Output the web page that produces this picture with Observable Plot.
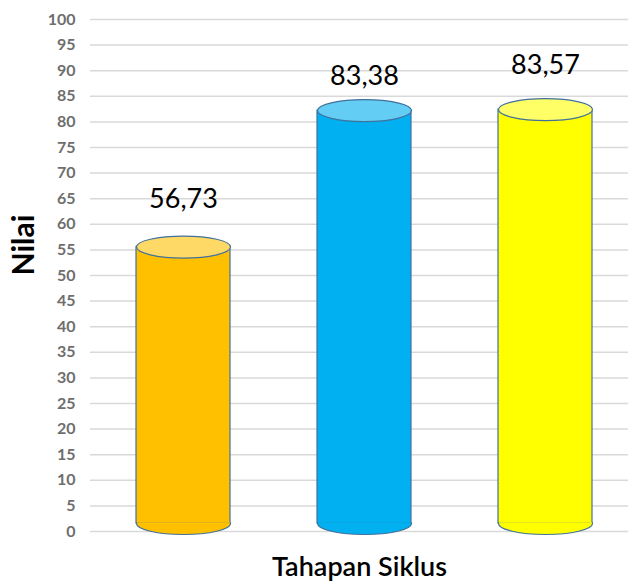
<!DOCTYPE html>
<html>
<head>
<meta charset="utf-8">
<script src="https://cdn.jsdelivr.net/npm/d3@7"></script>
<script src="https://cdn.jsdelivr.net/npm/@observablehq/plot@0.6"></script>
<style>
  html, body { margin: 0; padding: 0; background: #fff; }
</style>
</head>
<body>
<div id="chart"></div>
<script>
// ---- data ----
const categories = ["Siklus A", "Siklus B", "Siklus C"];
const values = [56.73, 83.38, 83.57];
const bodyColors = ["#FFC000", "#00B0F0", "#FFFF00"];
const topColors = ["#FFD966", "#63CDF3", "#FFFF66"];
const yTicks = d3.range(0, 101, 5);

const data = categories.map((c, i) => ({cat: c, value: values[i], body: bodyColors[i], top: topColors[i]}));

// ---- cylinder geometry (styling) ----
const RX = 47, RY = 11, TOP_DY = 6, BOT_DY = -8;
const K = 0.5523;
const ellipse = {
  draw(ctx) {
    ctx.moveTo(-RX, 0);
    ctx.bezierCurveTo(-RX, -RY * K, -RX * K, -RY, 0, -RY);
    ctx.bezierCurveTo(RX * K, -RY, RX, -RY * K, RX, 0);
    ctx.bezierCurveTo(RX, RY * K, RX * K, RY, 0, RY);
    ctx.bezierCurveTo(-RX * K, RY, -RX, RY * K, -RX, 0);
    ctx.closePath();
  }
};
// lower half of an ellipse, open path (fill covers the bar's bottom edge, stroke draws only the arc)
const lowerHalf = {
  draw(ctx) {
    ctx.moveTo(-RX, -1.2);
    ctx.lineTo(-RX, 0);
    ctx.bezierCurveTo(-RX, RY * K, -RX * K, RY, 0, RY);
    ctx.bezierCurveTo(RX * K, RY, RX, RY * K, RX, 0);
    ctx.lineTo(RX, -1.2);
  }
};
const edge = "#41719C";
const labelDy = [-42, -28, -38];
const fmt = v => v.toFixed(2).replace(".", ",");

const chart = Plot.plot({
  width: 628,
  height: 581,
  marginLeft: 90,
  marginRight: 0,
  marginTop: 19,
  marginBottom: 50,
  style: {fontFamily: "Lato, 'Open Sans', sans-serif", fontSize: "16px", color: "#6E6E6E", background: "#fff"},
  x: {domain: categories, range: [92, 637], paddingInner: 0.48, paddingOuter: 0.24, axis: null},
  y: {domain: [0, 100], ticks: yTicks, tickSize: 0, tickPadding: 15, label: null, tickFormat: d => d},
  marks: [
    Plot.ruleY(yTicks, {stroke: "#D9D9D9", strokeWidth: 1.5}),
    Plot.barY(data, {x: "cat", y1: () => 0, y2: "value", insetTop: TOP_DY, insetBottom: -BOT_DY, fill: "body", stroke: edge, strokeWidth: 1.2}),
    Plot.dot(data, {x: "cat", y: () => 0, dy: BOT_DY, symbol: lowerHalf, fill: "body", stroke: edge, strokeWidth: 1.2}),
    Plot.dot(data, {x: "cat", y: "value", dy: TOP_DY, symbol: ellipse, fill: "top", stroke: edge, strokeWidth: 1.2}),
    ...data.map((d, i) => Plot.text([d], {x: "cat", y: "value", text: dd => fmt(dd.value), dy: labelDy[i], fontSize: 27, fill: "#000", fontWeight: "normal"})),
    Plot.text(["Nilai"], {frameAnchor: "left", dx: -66, rotate: -90, fontSize: 30, fontWeight: "bold", fill: "#000"}),
    Plot.text(["Tahapan Siklus"], {frameAnchor: "bottom", dy: 44, fontSize: 27, fontWeight: 600, fill: "#000"})
  ]
});
// bold tick labels
chart.querySelectorAll("g[aria-label='y-axis'] text, g[aria-label='y-axis tick label'] text").forEach(t => t.setAttribute("font-weight", "bold"));
document.getElementById("chart").appendChild(chart);
</script>
</body>
</html>
